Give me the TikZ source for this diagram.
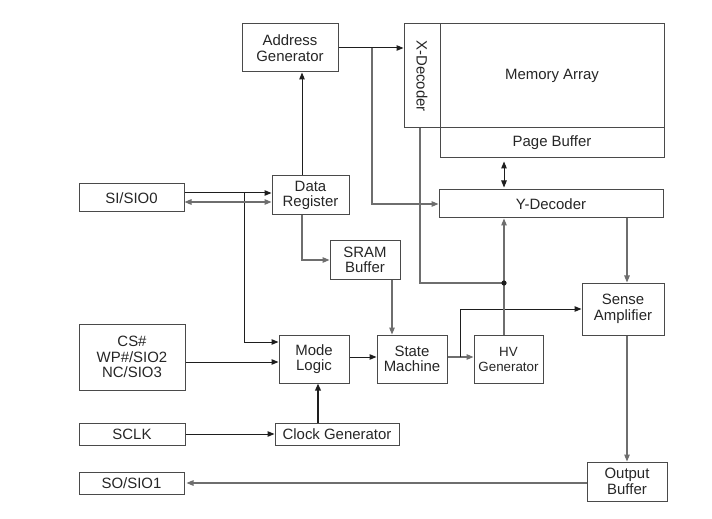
\documentclass[tikz,border=0pt]{standalone}
\usepackage{fontspec}
\setmainfont{Liberation Sans}
\usetikzlibrary{arrows.meta,calc}
\definecolor{boxc}{HTML}{4A4A4A}
\definecolor{linec}{HTML}{1E1E1E}
\definecolor{lgray}{HTML}{6E6E6E}
\begin{document}
\begin{tikzpicture}[x=1bp,y=-1bp,
  box/.style={draw=boxc, line width=1bp, align=center, inner sep=0pt,
    font=\fontsize{15}{15.5}\selectfont, text=black!85},
  tip/.tip={Triangle[length=7bp,width=5.5bp]},
  arr/.style={-tip, line width=1bp},
  dbl/.style={tip-tip, line width=1bp},
  dark/.style={draw=linec, fill=none},
  light/.style={draw=lgray, line width=1.2bp}]
\useasboundingbox (0,0) rectangle (712,519);
\fill[white] (0,0) rectangle (712,519);

% nodes
\node[box, minimum width=96bp, minimum height=48bp] (addr) at (290,48) {Address\\Generator};
\node[box, minimum width=36bp, minimum height=104bp] (xdec) at (422,76) {\rotatebox{-90}{X-Decoder}};
\node[box, minimum width=224bp, minimum height=104bp] (mem) at (552,76) {Memory Array};
\node[box, minimum width=224bp, minimum height=30bp] (page) at (552,143) {Page Buffer};
\node[box, minimum width=105bp, minimum height=28bp] (si) at (131.5,198) {SI/SIO0};
\node[box, minimum width=77bp, minimum height=39bp] (dreg) at (310.5,195.5) {Data\\Register};
\node[box, minimum width=224bp, minimum height=28bp] (ydec) at (551,204) {Y-Decoder};
\node[box, minimum width=70bp, minimum height=38bp] (sram) at (365,260) {SRAM\\Buffer};
\node[box, minimum width=82bp, minimum height=52bp] (sense) at (623,309) {Sense\\Amplifier};
\node[box, minimum width=106bp, minimum height=66bp] (cs) at (132,357) {CS\#\\WP\#/SIO2\\NC/SIO3};
\node[box, minimum width=70bp, minimum height=48bp] (mode) at (314,359) {Mode\\Logic};
\node[box, minimum width=70bp, minimum height=48bp] (state) at (412,359) {State\\Machine};
\node[box, minimum width=69bp, minimum height=48bp, font=\fontsize{13.4}{15}\selectfont] (hv) at (508.5,359) {HV\\Generator};
\node[box, minimum width=106bp, minimum height=22bp] (sclk) at (132,434) {SCLK};
\node[box, minimum width=124bp, minimum height=22bp] (clk) at (337,434) {Clock Generator};
\node[box, minimum width=105bp, minimum height=22bp] (so) at (131.5,483) {SO/SIO1};
\node[box, minimum width=80bp, minimum height=39bp] (out) at (627,481.5) {Output\\Buffer};

% connectors
\coordinate (b1) at (372,48);
\coordinate (b2) at (244,193);
\coordinate (b3) at (460,357);
\coordinate (dot) at (504,283);

\draw[arr,dark] (addr.east) -- (xdec.west |- addr.east);
\draw[arr,light] (b1) |- (ydec.west);
\draw[arr,dark] (302,0 |- dreg.north) -- (302,0 |- addr.south);
\draw[arr,dark] (si.east |- 0,193) -- (dreg.west |- 0,193);
\draw[arr,dark] (b2) |- (mode.west |- 0,342);
\draw[dbl,light] (si.east |- 0,202) -- (dreg.west |- 0,202);
\draw[arr,light] (302,0 |- dreg.south) |- (sram.west);
\draw[arr,light] (392,0 |- sram.south) -- (392,0 |- state.north);
\draw[arr,dark] (cs.east |- 0,362) -- (mode.west |- 0,362);
\draw[arr,dark] (sclk.east) -- (clk.west);
\draw[arr,dark,line width=2bp] (318,0 |- clk.north) -- (318,0 |- mode.south);
\draw[arr,dark] (mode.east |- 0,357) -- (state.west |- 0,357);
\draw[arr,light] (state.east |- 0,357) -- (hv.west |- 0,357);
\draw[arr,dark] (b3) |- (sense.west);
\draw[arr,light] (504,0 |- hv.north) -- (504,0 |- ydec.south);
\draw[light] (420,0 |- xdec.south) |- (dot);
\fill[linec] (dot) circle (2.6bp);
\draw[dbl,dark,shorten <=3bp,shorten >=2bp] (504,0 |- page.south) -- (504,0 |- ydec.north);
\draw[arr,light] (627,0 |- ydec.south) -- (627,0 |- sense.north);
\draw[arr,light] (627,0 |- sense.south) -- (627,0 |- out.north);
\draw[arr,light,shorten >=2bp] (out.west |- 0,483) -- (so.east |- 0,483);
\end{tikzpicture}
\end{document}
